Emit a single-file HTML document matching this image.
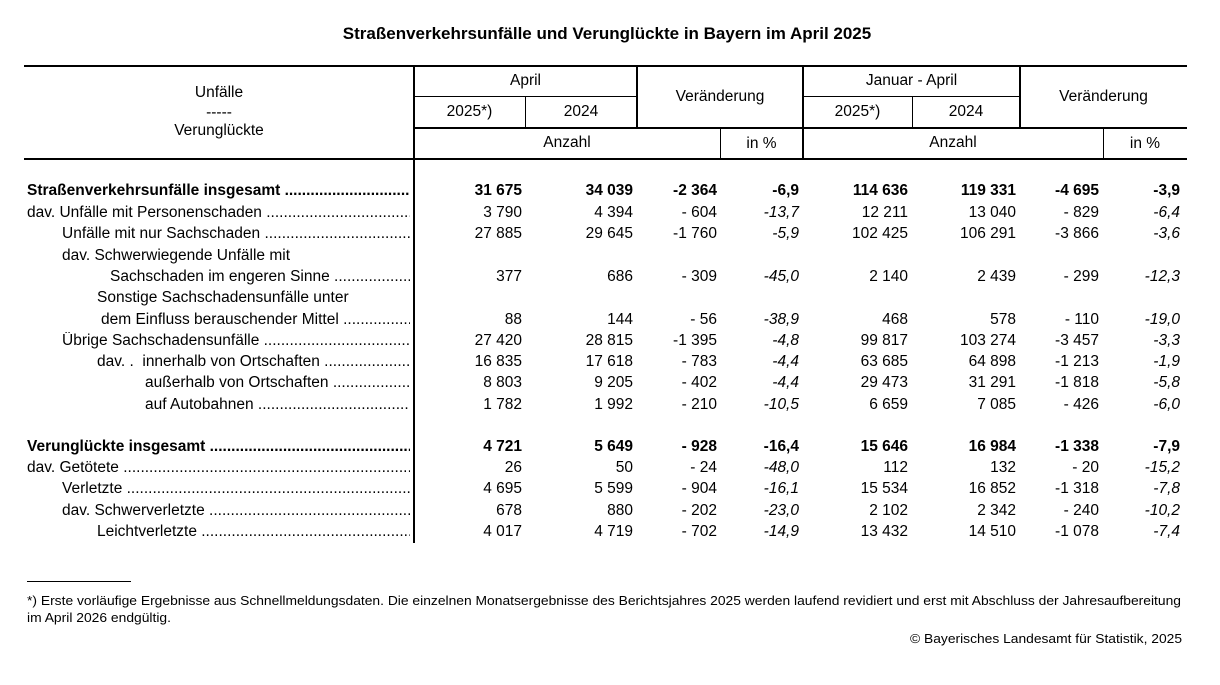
<!DOCTYPE html>
<html><head><meta charset="utf-8">
<style>
body{margin:0;width:1220px;height:685px;background:#fff;position:relative;font-family:"Liberation Sans",Arial,sans-serif;color:#000;overflow:hidden}
.a{position:absolute}
.h{position:absolute;background:#000}
.t{position:absolute;font-size:15.5px;line-height:18px;white-space:nowrap}
.c{text-align:center}
.r{position:absolute;left:0;top:0;height:18px;width:1220px;font-size:15.5px;line-height:18px}
.lab{position:absolute;white-space:nowrap;overflow:hidden}
.n{position:absolute;text-align:right;width:100px;white-space:nowrap}
.b{font-weight:bold}
.i{font-style:italic}
.fit{position:absolute;white-space:nowrap;transform-origin:0 0}
</style></head><body>
<div class="t b c" style="left:0;width:1214px;top:25px;font-size:17px">Straßenverkehrsunfälle und Verunglückte in Bayern im April 2025</div>

<div class="h" style="left:24px;top:65px;width:1163px;height:2px"></div>
<div class="h" style="left:414px;top:96px;width:223px;height:1px"></div>
<div class="h" style="left:803px;top:96px;width:217px;height:1px"></div>
<div class="h" style="left:414px;top:127px;width:773px;height:2px"></div>
<div class="h" style="left:24px;top:158px;width:1163px;height:2px"></div>
<div class="h" style="left:413px;top:66px;width:2px;height:477px"></div>
<div class="h" style="left:525px;top:96px;width:1px;height:32px"></div>
<div class="h" style="left:636px;top:66px;width:2px;height:62px"></div>
<div class="h" style="left:720px;top:128px;width:1px;height:31px"></div>
<div class="h" style="left:802px;top:66px;width:2px;height:93px"></div>
<div class="h" style="left:912px;top:96px;width:1px;height:32px"></div>
<div class="h" style="left:1019px;top:66px;width:2px;height:62px"></div>
<div class="h" style="left:1103px;top:128px;width:1px;height:31px"></div>

<div class="t c" style="left:24px;width:390px;top:84px">Unfälle</div>
<div class="t c" style="left:24px;width:390px;top:104px">-----</div>
<div class="t c" style="left:24px;width:390px;top:122px">Verunglückte</div>
<div class="t c" style="left:414px;width:223px;top:72px">April</div>
<div class="t c" style="left:414px;width:111px;top:103px">2025*)</div>
<div class="t c" style="left:525px;width:112px;top:103px">2024</div>
<div class="t c" style="left:637px;width:166px;top:88px">Veränderung</div>
<div class="t c" style="left:414px;width:306px;top:134px">Anzahl</div>
<div class="t c" style="left:720px;width:83px;top:135px">in %</div>
<div class="t c" style="left:803px;width:217px;top:72px">Januar - April</div>
<div class="t c" style="left:803px;width:109px;top:103px">2025*)</div>
<div class="t c" style="left:912px;width:108px;top:103px">2024</div>
<div class="t c" style="left:1020px;width:167px;top:88px">Veränderung</div>
<div class="t c" style="left:803px;width:300px;top:134px">Anzahl</div>
<div class="t c" style="left:1103px;width:84px;top:135px">in %</div>

<div id="rows"></div>

<div class="h" style="left:27px;top:581px;width:104px;height:1px"></div>
<div class="fit" data-w="1154" style="left:27px;top:593px;font-size:13px">*) Erste vorläufige Ergebnisse aus Schnellmeldungsdaten. Die einzelnen Monatsergebnisse des Berichtsjahres 2025 werden laufend revidiert und erst mit Abschluss der Jahresaufbereitung</div>
<div class="fit" data-w="144" style="left:27px;top:610px;font-size:13px">im April 2026 endgültig.</div>
<div class="fit" data-w="272" style="left:910px;top:631px;font-size:13px">© Bayerisches Landesamt für Statistik, 2025</div>

<script>
var D="..............................................................................................................";
var rows=[
[191,27,"Straßenverkehrsunfälle insgesamt",1,1,["31 675","34 039","-2 364","-6,9","114 636","119 331","-4 695","-3,9"]],
[213,27,"dav. Unfälle mit Personenschaden",0,1,["3 790","4 394","- 604","-13,7","12 211","13 040","- 829","-6,4"]],
[234,62,"Unfälle mit nur Sachschaden",0,1,["27 885","29 645","-1 760","-5,9","102 425","106 291","-3 866","-3,6"]],
[256,62,"dav. Schwerwiegende Unfälle mit",0,0,null],
[277,110,"Sachschaden im engeren Sinne",0,1,["377","686","- 309","-45,0","2 140","2 439","- 299","-12,3"]],
[298,97,"Sonstige Sachschadensunfälle unter",0,0,null],
[320,101,"dem Einfluss berauschender Mittel",0,1,["88","144","- 56","-38,9","468","578","- 110","-19,0"]],
[341,62,"Übrige Sachschadensunfälle",0,1,["27 420","28 815","-1 395","-4,8","99 817","103 274","-3 457","-3,3"]],
[362,97,"dav. .&nbsp; innerhalb von Ortschaften",0,1,["16 835","17 618","- 783","-4,4","63 685","64 898","-1 213","-1,9"]],
[383,145,"außerhalb von Ortschaften",0,1,["8 803","9 205","- 402","-4,4","29 473","31 291","-1 818","-5,8"]],
[405,145,"auf Autobahnen",0,1,["1 782","1 992","- 210","-10,5","6 659","7 085","- 426","-6,0"]],
[447,27,"Verunglückte insgesamt",1,1,["4 721","5 649","- 928","-16,4","15 646","16 984","-1 338","-7,9"]],
[468,27,"dav. Getötete",0,1,["26","50","- 24","-48,0","112","132","- 20","-15,2"]],
[489,62,"Verletzte",0,1,["4 695","5 599","- 904","-16,1","15 534","16 852","-1 318","-7,8"]],
[511,62,"dav. Schwerverletzte",0,1,["678","880","- 202","-23,0","2 102","2 342","- 240","-10,2"]],
[532,97,"Leichtverletzte",0,1,["4 017","4 719","- 702","-14,9","13 432","14 510","-1 078","-7,4"]]
];
var rt=[522,633,717,799,908,1016,1099,1180];
var h="";
rows.forEach(function(r){
 var cls=r[3]?"r b":"r";
 h+='<div class="'+cls+'" style="top:'+(r[0]-9)+'px">';
 h+='<div class="lab" style="left:'+r[1]+'px;width:'+(410-r[1])+'px">'+r[2]+(r[4]?' '+D:'')+'</div>';
 if(r[5]) r[5].forEach(function(v,k){
  var it=(k==3||k==7)&&!r[3]?" i":"";
  h+='<div class="n'+it+'" style="left:'+(rt[k]-100)+'px">'+v+'</div>';
 });
 h+='</div>';
});
document.getElementById("rows").innerHTML=h;
document.querySelectorAll(".fit").forEach(function(e){
 var w=e.getBoundingClientRect().width, t=+e.getAttribute("data-w");
 e.style.transform="scaleX("+(t/w)+")";
});
</script>
</body></html>
